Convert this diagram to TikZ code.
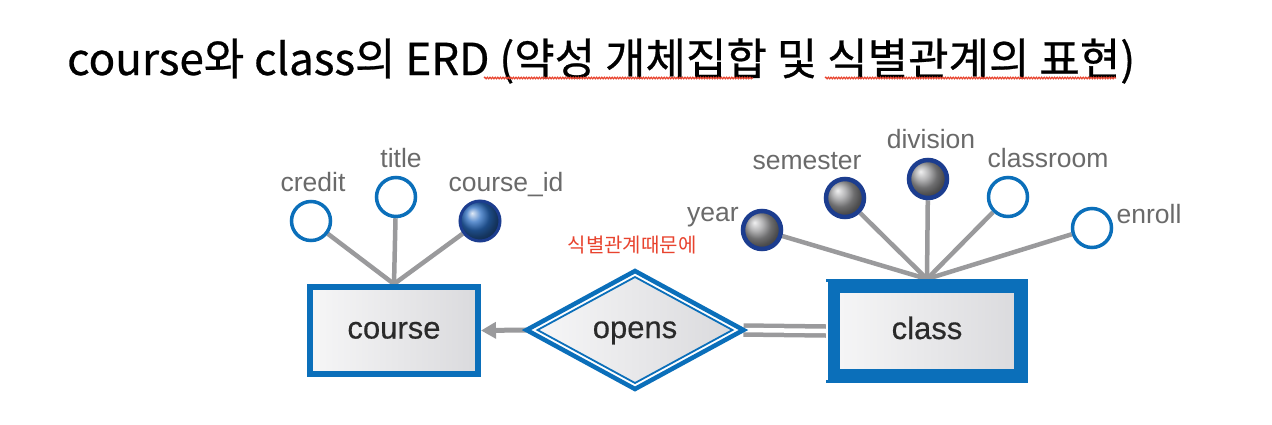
\documentclass[tikz,border=0pt]{standalone}
\usepackage{fontspec}
\setmainfont{Liberation Sans}
\newfontfamily\entfont{Liberation Sans}[FakeBold=0.5]
\newfontfamily\kr{Noto Sans CJK KR}
\newfontfamily\krt{Noto Sans CJK KR}[FakeBold=0.6]
\usetikzlibrary{shapes.geometric,arrows.meta,decorations.pathmorphing}
\definecolor{eblue}{HTML}{0B6FBA}
\definecolor{navy}{HTML}{1C3D8F}
\definecolor{keyblue}{HTML}{2A6CC0}
\definecolor{keygray}{HTML}{9C9C9E}
\definecolor{lgray}{HTML}{9A9A9C}
\definecolor{lbl}{HTML}{6A6A6A}
\definecolor{txt}{HTML}{2A2A2A}
\definecolor{redtxt}{HTML}{E8432E}
\definecolor{boxlight}{HTML}{F6F6F7}
\definecolor{boxdark}{HTML}{DADADD}
\pgfdeclarelayer{bg}
\pgfdeclarelayer{edges}
\pgfsetlayers{bg,edges,main}
\tikzset{
  entity/.style={draw=eblue, line width=6pt, left color=boxlight, right color=boxdark,
    font=\entfont\fontsize{31}{36}\selectfont, text=txt, inner sep=0, text height=16pt, text depth=0pt},
  weakentity/.style={entity, line width=14pt},
  relouter/.style={diamond, draw=eblue, line width=4.5pt, fill=white, inner sep=0, outer sep=0,
    minimum width=217pt, minimum height=118pt, aspect=1.85},
  relinner/.style={diamond, draw=eblue, line width=1.8pt, left color=boxlight, right color=boxdark,
    inner sep=0, outer sep=0, minimum width=195pt, minimum height=106pt, aspect=1.85,
    font=\entfont\fontsize{31}{36}\selectfont, text=txt, text height=16pt, text depth=0pt},
  attr/.style={circle, draw=eblue, line width=3.5pt, fill=white, minimum size=39pt, inner sep=0},
  keyattr/.style={circle, draw=navy, line width=3pt, ball color=keyblue, minimum size=40pt, inner sep=0},
  partkey/.style={circle, draw=navy, line width=4.5pt, ball color=keygray, minimum size=38pt, inner sep=0},
  lab/.style={anchor=base, font=\fontsize{26.5}{30}\selectfont, text=lbl, inner sep=0},
  conn/.style={draw=lgray, line width=4.5pt},
  squiggle/.style={draw=redtxt, line width=1.2pt, decorate,
    decoration={snake, amplitude=0.8pt, segment length=2.6pt}}
}
\begin{document}
\begin{tikzpicture}[x=1pt,y=-1pt]
\useasboundingbox (0,0) rectangle (1272,424);
\begin{pgfonlayer}{bg}
\fill[white] (0,0) rectangle (1272,424);
\end{pgfonlayer}

% title
\node[anchor=base west, inner sep=0, font=\krt\fontsize{44}{48}\selectfont] (title) at (67,75)
  {course와 class의 ERD (약성 개체집합 및 식별관계의 표현)};
\draw[squiggle] (484,78) -- (753,78);
\draw[squiggle] (825,78) -- (1116,78);

% entities and relationship
\node[entity, minimum width=168pt, minimum height=87pt] (course) at (394,330.5) {course};
\node[weakentity, minimum width=188pt, minimum height=90pt] (class) at (927,331) {class};
\draw[white, line width=1.6pt] ([xshift=1pt,yshift=-3pt]class.north west) -- ([xshift=1pt,yshift=3pt]class.south west);
\node[relouter] (opens) at (635,330) {};
\node[relinner] (opensin) at (opens.center) {opens};

\node[font=\kr\fontsize{20}{22}\selectfont, text=redtxt, inner sep=0] (note) at (632,245) {식별관계때문에};

% course attributes
\node[attr] (credit) at (311,221) {};
\node[attr] (titleattr) at (396,197) {};
\node[keyattr] (courseid) at (480,221) {};
\node[lab] (lcredit) at (313,191) {credit};
\node[lab] (ltitle) at (401,167) {title};
\node[lab] (lcourseid) at (506,191) {course\_id};

% class attributes
\node[partkey] (year) at (762,230) {};
\node[partkey] (semester) at (845,198) {};
\node[partkey] (division) at (928,179) {};
\node[attr] (classroom) at (1008,197) {};
\node[attr] (enroll) at (1092,228) {};
\node[lab] (lyear) at (713,221) {year};
\node[lab] (lsemester) at (807,169) {semester};
\node[lab] (ldivision) at (931,148) {division};
\node[lab] (lclassroom) at (1048,167) {classroom};
\node[lab] (lenroll) at (1149,223) {enroll};

\begin{pgfonlayer}{edges}
  \foreach \a in {credit,titleattr,courseid} \draw[conn] (\a) -- (course.north);
  \foreach \a in {year,semester,division,classroom,enroll} \draw[conn] (\a) -- (class.north);
  \draw[conn, line width=5pt, -{Triangle[length=15pt,width=16pt]}] (opens.west) -- (course.east);
  \draw[conn, line width=4.5pt, double=white, double distance=4.5pt] (opens.east) -- (class.west);
\end{pgfonlayer}
\end{tikzpicture}
\end{document}
